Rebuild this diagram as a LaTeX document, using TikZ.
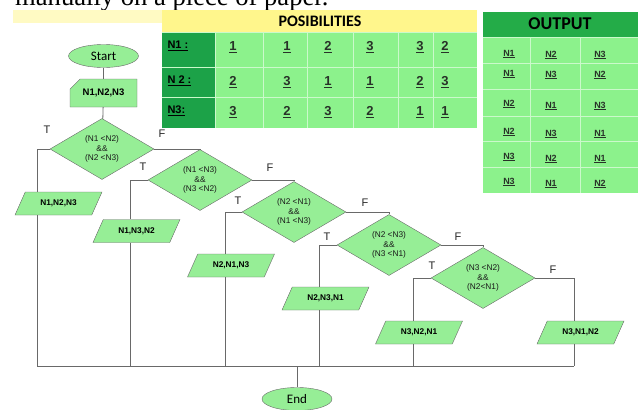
\documentclass[tikz,border=0pt]{standalone}
\usepackage{fontspec}
\setmainfont{Liberation Sans}
\newfontfamily\calibri{Carlito}
\newfontfamily\timesfont{Liberation Serif}
\usetikzlibrary{shapes.geometric,shapes.misc}
\definecolor{flowgreen}{RGB}{150,238,150}
\definecolor{cellgreen}{RGB}{140,242,140}
\definecolor{deepgreen}{RGB}{28,162,72}
\definecolor{headgreen}{RGB}{36,172,72}
\definecolor{headyellow}{RGB}{255,246,140}
\definecolor{paleyellow}{RGB}{255,250,195}
\definecolor{linegray}{RGB}{105,105,105}
\definecolor{txtdark}{RGB}{40,50,40}

\begin{document}
\begin{tikzpicture}[x=1pt, y=-1pt, term/.style={draw=linegray, fill=flowgreen, ellipse, minimum width=70pt, minimum height=23pt, inner sep=0pt, font=\calibri\fontsize{13}{13}\selectfont}, inp/.style={draw=linegray, fill=flowgreen, chamfered rectangle, chamfered rectangle corners=north west, chamfered rectangle xsep=6pt, chamfered rectangle ysep=6pt, minimum width=67pt, minimum height=28pt, inner sep=0pt, font=\bfseries\fontsize{9.5}{9.5}\selectfont}, cond/.style={draw=linegray, fill=flowgreen, diamond, minimum width=104pt, minimum height=61pt, inner sep=0pt, align=center, text=black!90, font=\fontsize{8.3}{9.3}\selectfont}, outp/.style={draw=linegray, fill=flowgreen, trapezium, trapezium left angle=66, trapezium right angle=114, trapezium stretches body, minimum width=87pt, text height=6pt, text depth=1.5pt, inner xsep=0pt, inner ysep=7.75pt, font=\bfseries\fontsize{8.3}{8.3}\selectfont}, lbl/.style={font=\fontsize{11}{11}\selectfont, text=black!85}, n/.style={draw=linegray, line width=0.8pt}, num/.style={font=\bfseries\fontsize{13}{13}\selectfont, text=txtdark}, rowlbl/.style={anchor=west, font=\bfseries\fontsize{11}{11}\selectfont, text=black}, res/.style={font=\bfseries\fontsize{9}{9}\selectfont, text=txtdark}, cellrule/.style={draw=white!55!cellgreen, line width=1pt}]
            \clip (0,0) rectangle (641,410);
            % heading text
            \node[anchor=base west, inner sep=0pt, font=\timesfont\fontsize{26.6}{30}\selectfont] (head) at (15,5) {manually on a piece of paper.};

            % possibilities table
            \fill[paleyellow] (13,10) rectangle (162,23);
            \fill[headyellow] (162,10) rectangle (477,32);
            \node[font=\calibri\bfseries\fontsize{16}{16}\selectfont] (poshead) at (320,21) {POSIBILITIES};
            \fill[deepgreen] (162,32) rectangle (215,128);
            \fill[cellgreen] (215,32) rectangle (477,128);
            \draw[cellrule] (162,32) -- (477,32) (162,67) -- (477,67) (162,97) -- (477,97);
            \draw[cellrule] (215,32) -- (215,128) (263,32) -- (263,128) (307,32) -- (307,128) (353,32) -- (353,128) (398,32) -- (398,128) (433,32) -- (433,128);

            \node[rowlbl] (rn1) at (164,46) {\underline{N1 :}};
            \node[rowlbl] (rn2) at (164,81) {\underline{N 2 :}};
            \node[rowlbl] (rn3) at (164,111) {\underline{N3:}};

            \node[num] (a11) at (233,47) {\underline{1}};
            \node[num] (a12) at (287,47) {\underline{1}};
            \node[num] (a13) at (328,47) {\underline{2}};
            \node[num] (a14) at (370,47) {\underline{3}};
            \node[num] (a15) at (420,47) {\underline{3}};
            \node[num] (a16) at (445,47) {\underline{2}};

            \node[num] (a21) at (233,82) {\underline{2}};
            \node[num] (a22) at (287,82) {\underline{3}};
            \node[num] (a23) at (328,82) {\underline{1}};
            \node[num] (a24) at (370,82) {\underline{1}};
            \node[num] (a25) at (420,82) {\underline{2}};
            \node[num] (a26) at (445,82) {\underline{3}};

            \node[num] (a31) at (233,112) {\underline{3}};
            \node[num] (a32) at (287,112) {\underline{2}};
            \node[num] (a33) at (328,112) {\underline{3}};
            \node[num] (a34) at (370,112) {\underline{2}};
            \node[num] (a35) at (420,112) {\underline{1}};
            \node[num] (a36) at (445,112) {\underline{1}};

            % output table
            \fill[headgreen] (483,12) rectangle (638,37);
            \node[font=\calibri\bfseries\fontsize{18}{18}\selectfont] (outhead) at (560,24) {OUTPUT};
            \fill[cellgreen] (483,37) rectangle (638,193);
            \draw[cellrule] (530,37) -- (530,193) (580,37) -- (580,193);
            \draw[cellrule] (483,37) -- (638,37) (483,63) -- (638,63) (483,89) -- (638,89) (483,116) -- (638,116) (483,141) -- (638,141) (483,167) -- (638,167);

            \node[res] (o11) at (509,54) {\underline{N1}};
            \node[res] (o12) at (551,55) {\underline{N2}};
            \node[res] (o13) at (600,55) {\underline{N3}};
            \node[res] (o21) at (509,74) {\underline{N1}};
            \node[res] (o22) at (551,75) {\underline{N3}};
            \node[res] (o23) at (600,75) {\underline{N2}};
            \node[res] (o31) at (509,104) {\underline{N2}};
            \node[res] (o32) at (551,106) {\underline{N1}};
            \node[res] (o33) at (600,106) {\underline{N3}};
            \node[res] (o41) at (509,132) {\underline{N2}};
            \node[res] (o42) at (551,134) {\underline{N3}};
            \node[res] (o43) at (600,134) {\underline{N1}};
            \node[res] (o51) at (509,157) {\underline{N3}};
            \node[res] (o52) at (551,159) {\underline{N2}};
            \node[res] (o53) at (600,159) {\underline{N1}};
            \node[res] (o61) at (509,182) {\underline{N3}};
            \node[res] (o62) at (551,184) {\underline{N1}};
            \node[res] (o63) at (600,184) {\underline{N2}};

            % flowchart nodes
            \node[term] (start) at (103.5,56) {Start};
            \node[inp] (input) at (103.5,93) {N1,N2,N3};

            \node[cond] (c1) at (102,149) {(N1 <N2)\\\&\&\\(N2 <N3)};
            \node[cond] (c2) at (200,180) {(N1 <N3)\\\&\&\\(N3 <N2)};
            \node[cond] (c3) at (294,212) {(N2 <N1)\\\&\&\\(N1 <N3)};
            \node[cond] (c4) at (389,245) {(N2 <N3)\\\&\&\\(N3 <N1)};
            \node[cond] (c5) at (483,278) {(N3 <N2)\\\&\&\\(N2<N1)};

            \node[outp] (p1) at (58.5,203.5) {N1,N2,N3};
            \node[outp] (p2) at (136.5,231) {N1,N3,N2};
            \node[outp] (p3) at (231,265.5) {N2,N1,N3};
            \node[outp] (p4) at (325.5,298.5) {N2,N3,N1};
            \node[outp] (p5) at (419,332.5) {N3,N2,N1};
            \node[outp] (p6) at (580.5,332.5) {N3,N1,N2};

            \node[term] (stop) at (297,399) {End};

            \node[lbl] (t1) at (47,130) {T};
            \node[lbl] (f1) at (162,134) {F};
            \node[lbl] (t2) at (143,167) {T};
            \node[lbl] (f2) at (270,168) {F};
            \node[lbl] (t3) at (238,201) {T};
            \node[lbl] (f3) at (365,203) {F};
            \node[lbl] (t4) at (327,237) {T};
            \node[lbl] (f4) at (458,237) {F};
            \node[lbl] (t5) at (432,266) {T};
            \node[lbl] (f5) at (553,270) {F};

            \coordinate (j1) at (37,366);
            \coordinate (j2) at (130,366);
            \coordinate (j3) at (225,366);
            \coordinate (j4) at (319,366);
            \coordinate (j5) at (413,366);
            \coordinate (j6) at (574,366);
            % edges
            \draw[n] (start) -- (input);
            \draw[n] (input) -- (c1);

            \draw[n] (c1.east) -| (c2.north);
            \draw[n] (c2.east) -| (c3.north);
            \draw[n] (c3.east) -| (c4.north);
            \draw[n] (c4.east) -| (c5.north);
            \draw[n] (c5.east) -| (p6.north -| j6);

            \draw[n] (c1.west) -| (p1.north -| j1);
            \draw[n] (c2.west) -| (p2.north -| j2);
            \draw[n] (c3.west) -| (p3.north -| j3);
            \draw[n] (c4.west) -| (p4.north -| j4);
            \draw[n] (c5.west) -| (p5.north -| j5);

            \draw[n] (p1.south -| j1) -- (j1);
            \draw[n] (p2.south -| j2) -- (j2);
            \draw[n] (p3.south -| j3) -- (j3);
            \draw[n] (p4.south -| j4) -- (j4);
            \draw[n] (p5.south -| j5) -- (j5);
            \draw[n] (p6.south -| j6) -- (j6);

            \draw[n] (j1) -- (j6);
            \draw[n] (stop.north) -- (stop.north |- j1);
        \end{tikzpicture}
\end{document}
